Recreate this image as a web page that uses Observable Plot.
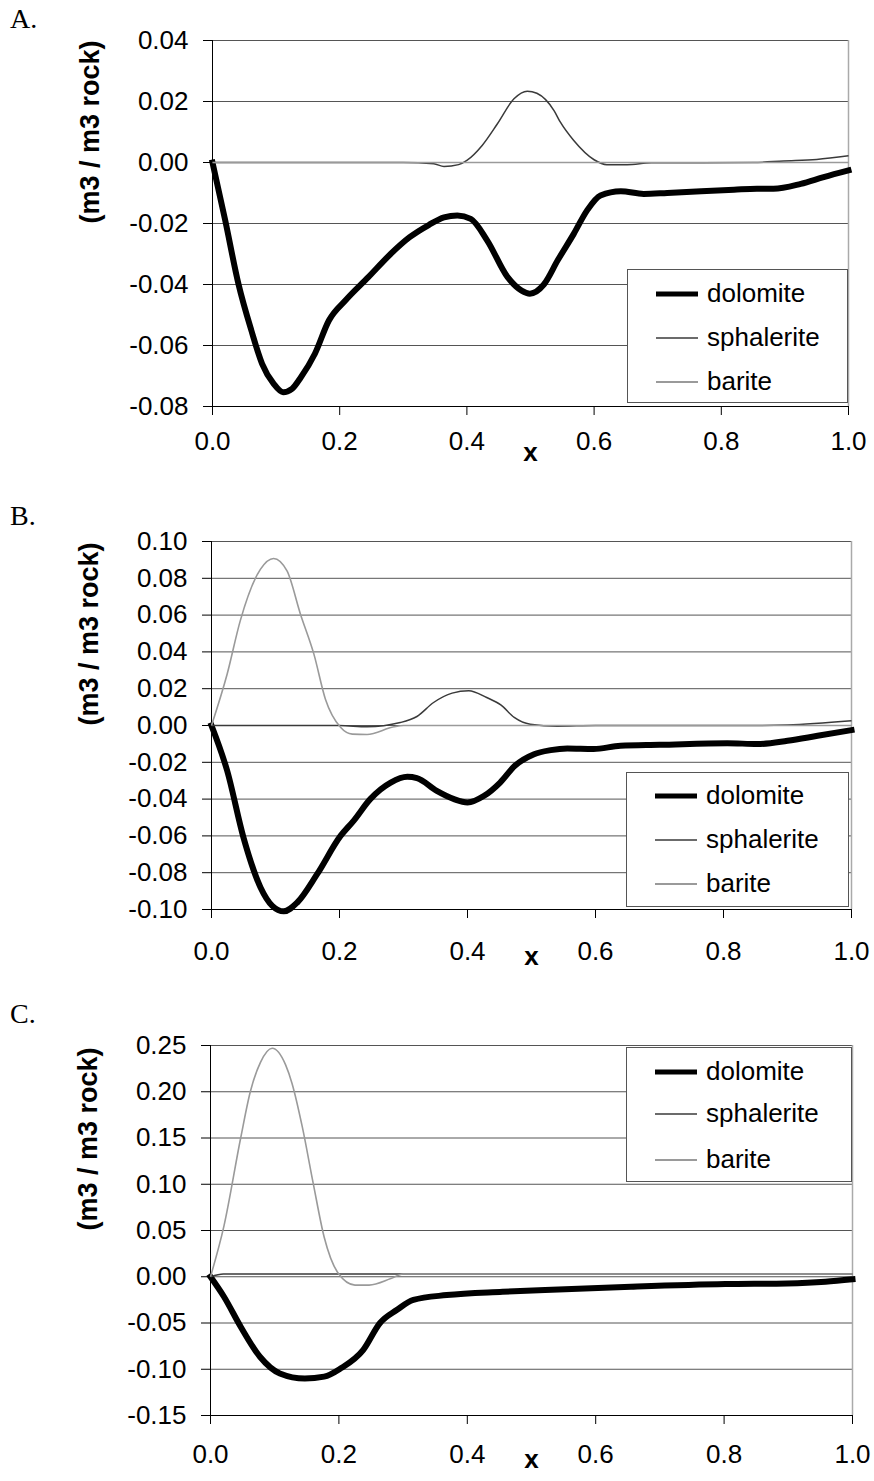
<!DOCTYPE html>
<html>
<head>
<meta charset="utf-8">
<script src="https://cdn.jsdelivr.net/npm/d3@7"></script>
<script src="https://cdn.jsdelivr.net/npm/@observablehq/plot@0.6"></script>
<style>
  body { margin: 0; background: #fff; }
  #wrap { position: relative; width: 874px; height: 1481px; background: #fff; overflow: hidden; }
  .panel { position: absolute; left: 0; }
  .plabel { position: absolute; left: 10px; font-family: "Liberation Serif", "Times New Roman", serif; font-size: 28px; line-height: 28px; color: #000; }
  .legend { position: absolute; background: #fff; border: 1px solid #555; box-sizing: border-box; font-family: "Liberation Sans", Arial, sans-serif; font-size: 26px; color: #000; }
  .legend .row { position: absolute; left: 0; height: 0; }
  .legend .row span { position: absolute; left: 79px; top: -16px; line-height: 30px; white-space: nowrap; }
  .legend .row svg { position: absolute; left: 27px; top: -4px; }
</style>
</head>
<body>
<div id="wrap"></div>
<script>
// ---------------- DATA ----------------
const seriesNames = ["dolomite", "sphalerite", "barite"];
const xTicks = [0, 0.2, 0.4, 0.6, 0.8, 1.0];
const yTicksA = [-0.08, -0.06, -0.04, -0.02, 0, 0.02, 0.04];
const yTicksB = [-0.10, -0.08, -0.06, -0.04, -0.02, 0, 0.02, 0.04, 0.06, 0.08, 0.10];
const yTicksC = [-0.15, -0.10, -0.05, 0, 0.05, 0.10, 0.15, 0.20, 0.25];
const panelLabels = ["A.", "B.", "C."];
const yTitle = "(m3 / m3 rock)";
const xTitle = "x";

// Panel A
const A_dolomite_x = [0, 0.02, 0.041, 0.061, 0.078, 0.096, 0.111, 0.125, 0.139, 0.161, 0.183, 0.21, 0.245, 0.28, 0.31, 0.34, 0.364, 0.385, 0.406, 0.432, 0.464, 0.486, 0.499, 0.521, 0.543, 0.568, 0.589, 0.61, 0.642, 0.678, 0.715, 0.82, 0.856, 0.882, 0.925, 0.961, 1.0];
const A_dolomite_y = [0, -0.019, -0.040, -0.055, -0.066, -0.0725, -0.0753, -0.0742, -0.0704, -0.0627, -0.0518, -0.045, -0.0376, -0.030, -0.0245, -0.0205, -0.018, -0.0174, -0.0185, -0.0256, -0.0376, -0.042, -0.043, -0.040, -0.032, -0.0234, -0.0157, -0.0108, -0.0094, -0.0103, -0.010, -0.0089, -0.0086, -0.0086, -0.007, -0.0048, -0.0026];
const A_sphalerite_x = [0, 0.3, 0.348, 0.364, 0.387, 0.40, 0.424, 0.448, 0.474, 0.495, 0.51, 0.537, 0.547, 0.568, 0.60, 0.62, 0.652, 0.69, 0.85, 0.898, 0.95, 1.0];
const A_sphalerite_y = [0, 0, -0.0004, -0.0013, -0.0007, 0.0007, 0.0056, 0.0127, 0.0209, 0.0234, 0.0227, 0.017, 0.0132, 0.0072, 0.0009, -0.0007, -0.0007, -0.0001, 0, 0.0005, 0.001, 0.0022];
const A_barite_x = [0, 0.2, 0.4, 0.6, 0.8, 1.0];
const A_barite_y = [0, 0, 0, 0, 0, 0];

// Panel B
const B_dolomite_x = [0, 0.0245, 0.05, 0.0766, 0.095, 0.113, 0.134, 0.165, 0.2016, 0.222, 0.248, 0.28, 0.306, 0.321, 0.352, 0.379, 0.40, 0.426, 0.451, 0.474, 0.504, 0.53, 0.556, 0.597, 0.639, 0.70, 0.806, 0.853, 0.9, 0.947, 1.0];
const B_dolomite_y = [0, -0.0246, -0.0609, -0.088, -0.098, -0.101, -0.0962, -0.0808, -0.060, -0.0518, -0.040, -0.031, -0.0279, -0.0286, -0.0355, -0.040, -0.0418, -0.0382, -0.031, -0.0219, -0.0156, -0.0134, -0.0125, -0.0128, -0.011, -0.0105, -0.0096, -0.0101, -0.0083, -0.0056, -0.0025];
const B_sphalerite_x = [0, 0.2, 0.243, 0.295, 0.321, 0.347, 0.376, 0.402, 0.43, 0.452, 0.473, 0.498, 0.54, 0.6, 0.85, 0.9, 1.0];
const B_sphalerite_y = [0, 0, -0.0007, 0.0016, 0.0049, 0.0125, 0.0176, 0.0189, 0.0152, 0.0112, 0.0044, 0.0007, -0.0004, 0, 0, 0.0003, 0.0026];
const B_barite_x = [0, 0.0245, 0.045, 0.0766, 0.097, 0.118, 0.139, 0.16, 0.178, 0.2016, 0.22, 0.243, 0.285, 0.30, 1.0];
const B_barite_y = [0, 0.028, 0.057, 0.085, 0.0908, 0.084, 0.0605, 0.0388, 0.0143, -0.001, -0.0047, -0.0049, -0.0007, 0, 0];

// Panel C
const C_dolomite_x = [0, 0.021, 0.047, 0.077, 0.108, 0.147, 0.177, 0.203, 0.238, 0.264, 0.29, 0.316, 0.368, 0.455, 0.542, 0.655, 0.802, 0.898, 0.958, 1.0];
const C_dolomite_y = [0, -0.0216, -0.054, -0.0865, -0.1045, -0.110, -0.108, -0.099, -0.079, -0.050, -0.036, -0.025, -0.0198, -0.0162, -0.0137, -0.0108, -0.0079, -0.0072, -0.0054, -0.0028];
const C_sphalerite_x = [0, 0.02, 1.0];
const C_sphalerite_y = [0, 0.003, 0.003];
const C_barite_x = [0, 0.021, 0.047, 0.062, 0.078, 0.096, 0.117, 0.127, 0.143, 0.16, 0.177, 0.199, 0.225, 0.247, 0.281, 0.30, 1.0];
const C_barite_y = [0, 0.055, 0.15, 0.20, 0.232, 0.247, 0.229, 0.209, 0.162, 0.101, 0.043, 0.0037, -0.009, -0.009, -0.002, 0.003, 0.003];

// ---------------- STYLE ----------------
const seriesStyle = {
  dolomite:   {stroke: "#000", width: 6, legendWidth: 5},
  sphalerite: {stroke: "#3a3a3a", width: 1.5, legendWidth: 1.6},
  barite:     {stroke: "#9a9a9a", width: 1.6, legendWidth: 2}
};

const panels = [
  {top: 0,   height: 480, mt: 40, mb: 74, ml: 212, mr: 26, yDomain: [-0.08, 0.04], yTicks: yTicksA, xPad: 16.5, xTitleDy: 54, labelTop: 5,
   data: {dolomite: [A_dolomite_x, A_dolomite_y], sphalerite: [A_sphalerite_x, A_sphalerite_y], barite: [A_barite_x, A_barite_y]},
   legend: {left: 627, top: 269, width: 221, height: 134, rows: [24, 68, 112]}},
  {top: 480, height: 500, mt: 61, mb: 71, ml: 211, mr: 23, yDomain: [-0.10, 0.10], yTicks: yTicksB, xPad: 23.5, xTitleDy: 55, labelTop: 502,
   data: {dolomite: [B_dolomite_x, B_dolomite_y], sphalerite: [B_sphalerite_x, B_sphalerite_y], barite: [B_barite_x, B_barite_y]},
   legend: {left: 626, top: 772, width: 223, height: 135, rows: [23, 67, 111]}},
  {top: 980, height: 501, mt: 65, mb: 66, ml: 210, mr: 22, yDomain: [-0.15, 0.25], yTicks: yTicksC, xPad: 20.5, xTitleDy: 52, labelTop: 1000,
   data: {dolomite: [C_dolomite_x, C_dolomite_y], sphalerite: [C_sphalerite_x, C_sphalerite_y], barite: [C_barite_x, C_barite_y]},
   legend: {left: 626, top: 1047, width: 226, height: 135, rows: [24, 66, 112]}}
];

const wrap = document.getElementById("wrap");

panels.forEach((p, i) => {
  const lineMarks = seriesNames.map(name => {
    const [xs, ys] = p.data[name];
    const rows = xs.map((x, k) => ({x, y: ys[k]}));
    const st = seriesStyle[name];
    return Plot.line(rows, {x: "x", y: "y", stroke: st.stroke, strokeWidth: st.width, curve: "monotone-x", strokeLinejoin: "round", strokeLinecap: name === "dolomite" ? "square" : "butt"});
  });

  const chart = Plot.plot({
    width: 874,
    height: p.height,
    marginTop: p.mt, marginBottom: p.mb, marginLeft: p.ml, marginRight: p.mr,
    x: {domain: [0, 1]},
    y: {domain: p.yDomain},
    style: {fontFamily: "'Liberation Sans', Arial, sans-serif", fontSize: "26px", color: "#000", background: "transparent", overflow: "visible"},
    marks: [
      Plot.ruleY(p.yTicks, {stroke: "#555", strokeWidth: 1}),
      Plot.ruleX([1], {stroke: "#aaa", strokeWidth: 1.5}),
      Plot.ruleX([0], {stroke: "#000", strokeWidth: 1}),
      Plot.ruleY([p.yDomain[0]], {stroke: "#000", strokeWidth: 1}),
      Plot.axisY({ticks: p.yTicks, tickFormat: d => d.toFixed(2), tickSize: 9, tickPadding: 15, label: null, fontSize: 26, stroke: "#000"}),
      Plot.axisX({ticks: xTicks, tickFormat: d => d.toFixed(1), tickSize: 9, tickPadding: p.xPad, label: null, fontSize: 26, stroke: "#000"}),
      ...lineMarks,
      Plot.text([yTitle], {text: d => d, frameAnchor: "left", dx: -122, rotate: -90, fontWeight: "bold", fontSize: 27}),
      Plot.text([xTitle], {text: d => d, frameAnchor: "bottom", dy: p.xTitleDy, fontWeight: "bold", fontSize: 26})
    ]
  });
  const holder = document.createElement("div");
  holder.className = "panel";
  holder.style.top = p.top + "px";
  holder.appendChild(chart);
  wrap.appendChild(holder);

  // panel label
  const lab = document.createElement("div");
  lab.className = "plabel";
  lab.style.top = p.labelTop + "px";
  lab.textContent = panelLabels[i];
  wrap.appendChild(lab);

  // legend
  const lg = document.createElement("div");
  lg.className = "legend";
  Object.assign(lg.style, {left: p.legend.left + "px", top: p.legend.top + "px", width: p.legend.width + "px", height: p.legend.height + "px"});
  seriesNames.forEach((name, k) => {
    const row = document.createElement("div");
    row.className = "row";
    row.style.top = p.legend.rows[k] + "px";
    const st = seriesStyle[name];
    row.innerHTML = `<svg width="44" height="8"><line x1="1" x2="43" y1="4" y2="4" stroke="${st.stroke}" stroke-width="${st.legendWidth}"/></svg><span>${name}</span>`;
    lg.appendChild(row);
  });
  wrap.appendChild(lg);
});
</script>
</body>
</html>
